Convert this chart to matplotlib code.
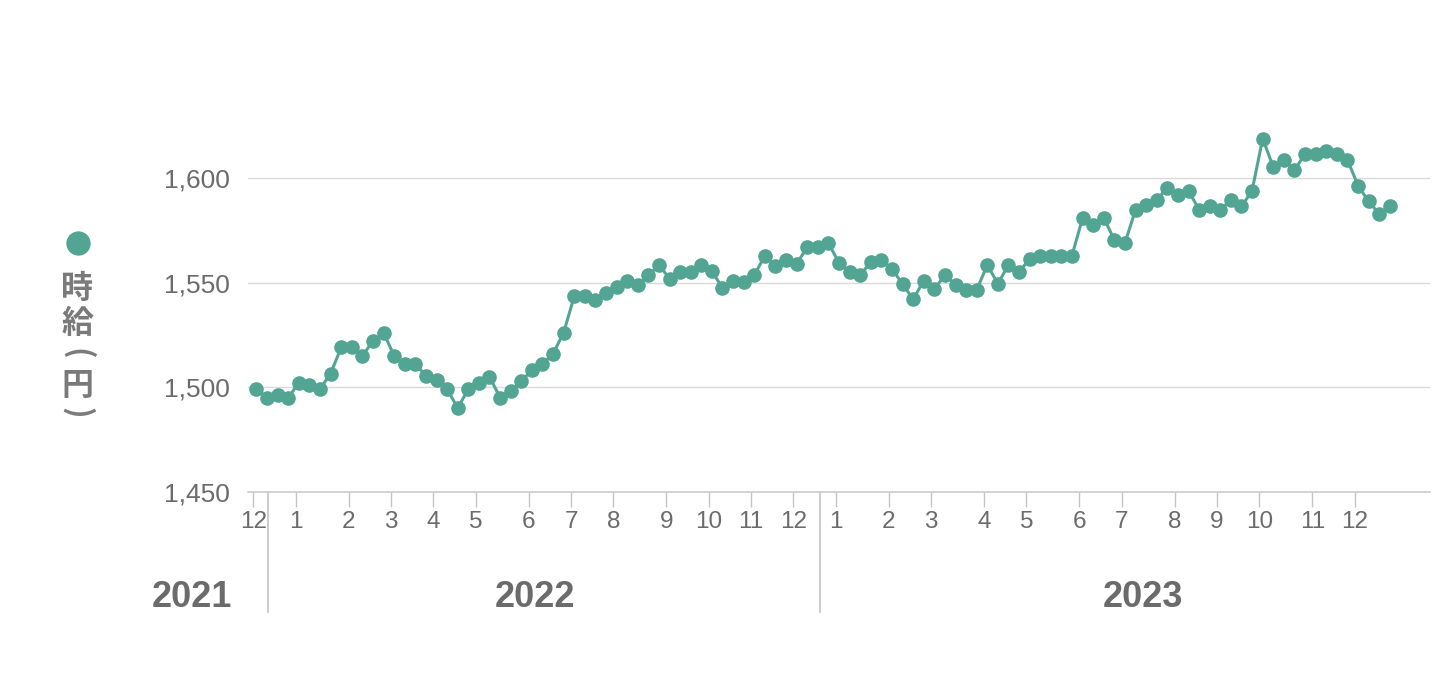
import matplotlib
matplotlib.use('Agg')
import matplotlib.pyplot as plt
import matplotlib.transforms as mtransforms

# weekly hourly wage (yen), Dec 2021 - Dec 2023
wage = [
    1499, 1495, 1496, 1495, 1502, 1501, 1499, 1506.5, 1519, 1519,
    1515, 1522, 1526, 1515, 1511, 1511, 1505.5, 1503.5, 1499, 1490,
    1499, 1502, 1505, 1495, 1498, 1503, 1508, 1511, 1516, 1526,
    1543.5, 1543.5, 1541.5, 1545, 1548, 1551, 1549, 1553.5, 1558.5, 1552,
    1555, 1555, 1558.5, 1555.5, 1547.5, 1551, 1550.5, 1553.5, 1563, 1558,
    1561, 1559, 1567, 1567, 1569, 1559.5, 1555, 1553.5, 1560, 1561,
    1556.5, 1549.5, 1542, 1551, 1547, 1553.5, 1549, 1546.5, 1546.5, 1558.5,
    1549.5, 1558.5, 1555, 1561.5, 1563, 1563, 1563, 1563, 1581, 1577.5,
    1581, 1570.5, 1569, 1585, 1587, 1589.5, 1595.5, 1592, 1594, 1585,
    1586.5, 1585, 1589.5, 1586.5, 1594, 1619, 1605.5, 1609, 1604, 1611.5,
    1611.5, 1613, 1611.5, 1609, 1596.5, 1589, 1583, 1586.5,
]

# index of the first week of each month, and its label
month_start = [0, 4, 9, 13, 17, 21, 26, 30, 34, 39, 43, 47, 51,
               55, 60, 64, 69, 73, 78, 82, 87, 91, 95, 100, 104]
month_labels = ['12'] + [str(m) for m in range(1, 13)] * 2

years = ['2021', '2022', '2023']
y_ticks = [1450, 1500, 1550, 1600]

GREEN = '#52a592'
TEXT = '#6b6b6b'
GRID = '#dadada'

plt.rcParams['font.family'] = ['Liberation Sans', 'Noto Sans CJK JP', 'DejaVu Sans']

fig = plt.figure(figsize=(14.4, 6.74), dpi=100)
ax = fig.add_axes([248 / 1440, (674 - 491.5) / 674, (1430 - 248) / 1440, 417.6 / 674])

x = list(range(len(wage)))
ax.plot(x, wage, color=GREEN, lw=2.2, marker='o', ms=9.5, zorder=3, clip_on=False)

ax.set_xlim(-0.8, 110.8)
ax.set_ylim(1450, 1650)

ax.set_yticks(y_ticks)
ax.set_yticklabels([f'{v:,}' for v in y_ticks], fontsize=19, color=TEXT)
ax.tick_params(axis='y', length=0, pad=13)
ax.yaxis.grid(True, color=GRID, lw=1.0)
ax.set_axisbelow(True)

ax.set_xticks([m - 0.3 for m in month_start])
ax.set_xticklabels(month_labels, fontsize=17.5, color=TEXT)
ax.tick_params(axis='x', length=11, width=1.0, color='#c4c4c4', pad=3)

for s in ['top', 'right', 'left']:
    ax.spines[s].set_visible(False)
ax.spines['bottom'].set_color('#c8c8c8')
ax.spines['bottom'].set_linewidth(1.1)

# year separators and year labels below the month ticks
trans = mtransforms.blended_transform_factory(ax.transData, ax.transAxes)
for xd in [1.1, 53.2]:
    ax.plot([xd, xd], [0, -0.289], color='#bdbdbd', lw=1.1, transform=trans, clip_on=False)

year_pos = [(-2.3, 'right'), (26.3, 'center'), (83.7, 'center')]
for label, (xp, ha) in zip(years, year_pos):
    ax.text(xp, -0.253, label, transform=trans, ha=ha, va='center',
            fontsize=26, color=TEXT, fontweight='bold')

# vertical series label on the left (parentheses turned for vertical writing)
fig.lines.append(plt.Line2D([77.5 / 1440], [1 - 242.7 / 674], marker='o', ms=16.5,
                            color=GREEN, transform=fig.transFigure))
label_chars = [('時', 289, 0, 23), ('給', 324, 0, 23), ('(', 354, -90, 22),
               ('円', 386, 0, 23), (')', 413, -90, 22)]
for ch, yp, rot, fs in label_chars:
    fig.text(77 / 1440, 1 - yp / 674, ch, ha='center', va='center', rotation=rot,
             fontsize=fs, color='#7a7a7a', fontweight='bold',
             family=['Noto Sans CJK JP', 'DejaVu Sans'])

fig.savefig('out.png', dpi=100)
